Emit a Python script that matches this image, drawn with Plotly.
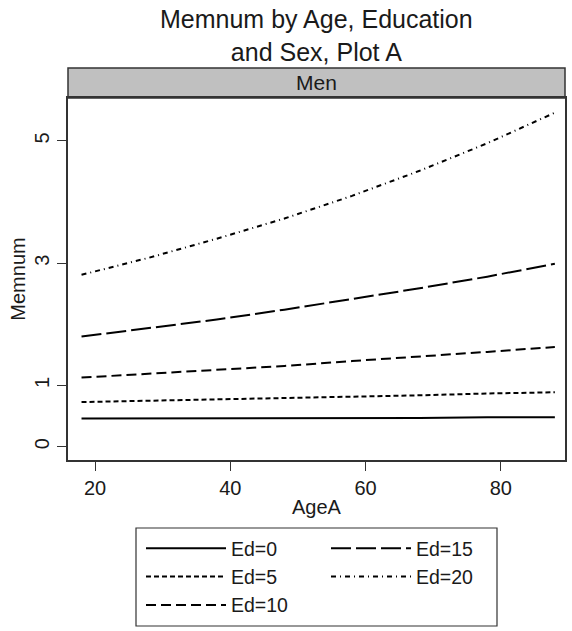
import plotly.graph_objects as go

ages = [18, 28, 38, 48, 58, 68, 78, 88]
ed0 = [0.46, 0.46, 0.47, 0.47, 0.47, 0.47, 0.48, 0.48]
ed5 = [0.73, 0.75, 0.77, 0.80, 0.82, 0.84, 0.87, 0.89]
ed10 = [1.13, 1.19, 1.25, 1.32, 1.40, 1.47, 1.55, 1.63]
ed15 = [1.80, 1.94, 2.08, 2.24, 2.41, 2.59, 2.78, 2.99]
ed20 = [2.81, 3.09, 3.40, 3.73, 4.10, 4.51, 4.96, 5.46]

series_names = ["Ed=0", "Ed=5", "Ed=10", "Ed=15", "Ed=20"]
series_vals = [ed0, ed5, ed10, ed15, ed20]
dashes = ["solid", "5px,3px", "10px,5px", "20px,5px", "5px,4px,1px,4px"]
ranks = [1, 3, 5, 2, 4]

x_ticks = [20, 40, 60, 80]
y_ticks = [0, 1, 3, 5]

FONT = "Liberation Sans, Arial, sans-serif"
TXT = "#1a1a1a"

fig = go.Figure()
for name, vals, dash, rk in zip(series_names, series_vals, dashes, ranks):
    fig.add_trace(go.Scatter(
        x=ages, y=vals, mode="lines", name=name, legendrank=rk,
        line=dict(color="black", width=2, dash=dash),
    ))

PH = 392
PW = 497
ytop = (460 - 98) / PH

def py(px):
    return (460 - px) / PH

def pxx(px):
    return (px - 68) / PW

fig.update_layout(
    template="none",
    width=572, height=631,
    margin=dict(l=68, r=7, t=68, b=171, autoexpand=False),
    paper_bgcolor="white", plot_bgcolor="white",
    font=dict(family=FONT, color=TXT, size=20),
    xaxis=dict(range=[16, 89.5], tickvals=x_ticks, ticks="outside", ticklen=9,
               tickwidth=1.2, tickcolor="#333", showgrid=False, zeroline=False,
               showline=True, linecolor="#333", linewidth=1.5, mirror=True, automargin=False,
               tickfont=dict(size=20), title=dict(text="AgeA", standoff=2, font=dict(size=20))),
    yaxis=dict(range=[-0.217, 5.70], tickvals=y_ticks, ticks="outside", ticklen=9,
               tickwidth=1.2, tickcolor="#333", showgrid=False, zeroline=False,
               showline=True, linecolor="#333", linewidth=1.5, mirror=True, automargin=False,
               tickangle=-90, domain=[0, ytop],
               tickfont=dict(size=20), title=dict(text="Memnum", standoff=0, font=dict(size=20))),
    legend=dict(orientation="h", x=pxx(141), y=py(529), xanchor="left", yanchor="top",
                borderwidth=0, entrywidth=90, entrywidthmode="pixels",
                itemwidth=80, font=dict(size=19.5), bgcolor="rgba(0,0,0,0)"),
    showlegend=True,
)

fig.add_annotation(text="Memnum by Age, Education<br>and Sex, Plot A", xref="paper", yref="paper",
                   x=0.5, y=py(35), showarrow=False, xanchor="center", yanchor="middle",
                   font=dict(size=25, family=FONT, color=TXT))
fig.add_shape(type="rect", xref="paper", yref="paper", x0=0, x1=1, y0=ytop, y1=1,
              fillcolor="#c0c0c0", line=dict(color="#333", width=1.5), layer="below")
fig.add_annotation(text="Men", xref="paper", yref="paper", x=0.5, y=(ytop + 1) / 2,
                   showarrow=False, font=dict(size=21, family=FONT, color=TXT),
                   xanchor="center", yanchor="middle")
# legend frame
fig.add_shape(type="rect", xref="paper", yref="paper", x0=pxx(136), x1=pxx(497),
              y0=py(626), y1=py(528), line=dict(color="#333", width=1.2),
              fillcolor="rgba(0,0,0,0)", layer="below")

fig.write_html("out.html", config={"displayModeBar": False},
               post_script="document.body.style.margin='0';document.body.style.overflow='hidden';")
